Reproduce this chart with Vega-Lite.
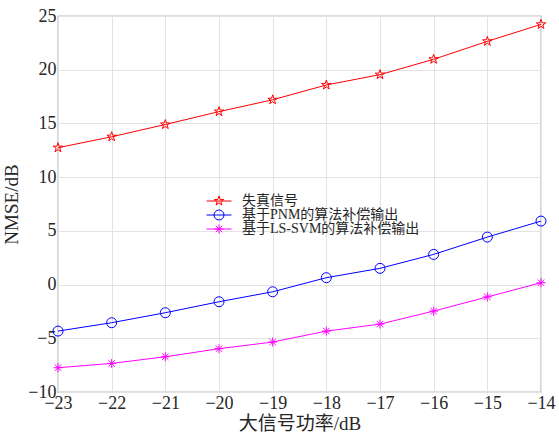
{
  "$schema": "https://vega.github.io/schema/vega-lite/v6.json",
  "width": 483,
  "height": 376,
  "autosize": {"type": "none"},
  "padding": {"left": 58, "top": 16, "right": 18, "bottom": 44},
  "background": "white",
  "config": {
    "view": {"stroke": "#7a7a7a", "strokeWidth": 1.2},
    "font": "Times New Roman, Liberation Serif, DejaVu Serif, serif",
    "axis": {
      "labelFont": "Times New Roman, Liberation Serif, DejaVu Serif, serif",
      "titleFont": "Times New Roman, Liberation Serif, Noto Sans CJK SC, serif",
      "labelFontSize": 18,
      "titleFontSize": 19,
      "labelColor": "#262626",
      "titleColor": "#262626",
      "titleFontWeight": "normal",
      "gridColor": "#e3e3e3",
      "gridWidth": 1,
      "domain": false,
      "tickSize": 0,
      "labelPadding": 2,
      "labelFlush": false
    },
    "legend": {
      "labelFont": "Times New Roman, Liberation Serif, Noto Sans CJK SC, serif",
      "labelFontSize": 14,
      "labelColor": "#262626",
      "labelLimit": 400
    }
  },
  "datasets": {
    "pts": [
      {"x": -23, "y": 12.74, "s": "失真信号"},
      {"x": -22, "y": 13.76, "s": "失真信号"},
      {"x": -21, "y": 14.9, "s": "失真信号"},
      {"x": -20, "y": 16.1, "s": "失真信号"},
      {"x": -19, "y": 17.2, "s": "失真信号"},
      {"x": -18, "y": 18.58, "s": "失真信号"},
      {"x": -17, "y": 19.54, "s": "失真信号"},
      {"x": -16, "y": 20.97, "s": "失真信号"},
      {"x": -15, "y": 22.64, "s": "失真信号"},
      {"x": -14, "y": 24.22, "s": "失真信号"},
      {"x": -23, "y": -4.33, "s": "基于PNM的算法补偿输出"},
      {"x": -22, "y": -3.55, "s": "基于PNM的算法补偿输出"},
      {"x": -21, "y": -2.62, "s": "基于PNM的算法补偿输出"},
      {"x": -20, "y": -1.6, "s": "基于PNM的算法补偿输出"},
      {"x": -19, "y": -0.67, "s": "基于PNM的算法补偿输出"},
      {"x": -18, "y": 0.64, "s": "基于PNM的算法补偿输出"},
      {"x": -17, "y": 1.51, "s": "基于PNM的算法补偿输出"},
      {"x": -16, "y": 2.81, "s": "基于PNM的算法补偿输出"},
      {"x": -15, "y": 4.42, "s": "基于PNM的算法补偿输出"},
      {"x": -14, "y": 5.91, "s": "基于PNM的算法补偿输出"},
      {"x": -23, "y": -7.74, "s": "基于LS-SVM的算法补偿输出"},
      {"x": -22, "y": -7.34, "s": "基于LS-SVM的算法补偿输出"},
      {"x": -21, "y": -6.72, "s": "基于LS-SVM的算法补偿输出"},
      {"x": -20, "y": -5.97, "s": "基于LS-SVM的算法补偿输出"},
      {"x": -19, "y": -5.35, "s": "基于LS-SVM的算法补偿输出"},
      {"x": -18, "y": -4.33, "s": "基于LS-SVM的算法补偿输出"},
      {"x": -17, "y": -3.68, "s": "基于LS-SVM的算法补偿输出"},
      {"x": -16, "y": -2.47, "s": "基于LS-SVM的算法补偿输出"},
      {"x": -15, "y": -1.15, "s": "基于LS-SVM的算法补偿输出"},
      {"x": -14, "y": 0.17, "s": "基于LS-SVM的算法补偿输出"}
    ]
  },
  "data": {"name": "pts"},
  "encoding": {
    "x": {
      "field": "x", "type": "quantitative",
      "scale": {"domain": [-23, -14], "nice": false, "zero": false},
      "axis": {"values": [-23, -22, -21, -20, -19, -18, -17, -16, -15, -14], "title": "大信号功率/dB", "titlePadding": 2}
    },
    "y": {
      "field": "y", "type": "quantitative",
      "scale": {"domain": [-10, 25], "nice": false, "zero": false},
      "axis": {"values": [-10, -5, 0, 5, 10, 15, 20, 25], "title": "NMSE/dB", "titlePadding": 6}
    }
  },
  "layer": [
    {
      "mark": {"type": "line", "strokeWidth": 1},
      "encoding": {
        "color": {
          "field": "s", "type": "nominal",
          "scale": {"domain": ["失真信号", "基于PNM的算法补偿输出", "基于LS-SVM的算法补偿输出"], "range": ["#ff0000", "#0000ff", "#ff00ff"]},
          "legend": {
            "title": null,
            "orient": "none",
            "legendX": 154,
            "legendY": 178,
            "symbolType": "M-2.5,0H2.5",
            "symbolSize": 100,
            "symbolStrokeWidth": 1,
            "symbolFillColor": "transparent",
            "rowPadding": -2,
            "labelOffset": 16,
            "symbolOffset": 0,
            "labelLimit": 400
          }
        }
      }
    },
    {
      "mark": {"type": "point", "filled": false, "strokeWidth": 1, "size": 100, "opacity": 1},
      "encoding": {
        "stroke": {
          "field": "s", "type": "nominal",
          "scale": {"domain": ["失真信号", "基于PNM的算法补偿输出", "基于LS-SVM的算法补偿输出", "无"], "range": ["#ff0000", "#0000ff", "#ff00ff", "#ffffff"]},
          "legend": {
            "title": null,
            "orient": "none",
            "legendX": 154,
            "legendY": 178,
            "values": ["失真信号", "基于PNM的算法补偿输出", "基于LS-SVM的算法补偿输出"],
            "symbolSize": 100,
            "symbolStrokeWidth": 1,
            "symbolFillColor": "transparent",
            "rowPadding": -2,
            "labelOffset": 16,
            "symbolOffset": 0,
            "labelOpacity": 0,
            "labelLimit": 400
          }
        },
        "shape": {
          "field": "s", "type": "nominal",
          "scale": {
            "domain": ["失真信号", "基于PNM的算法补偿输出", "基于LS-SVM的算法补偿输出", "无"],
            "range": [
              "M0,-1L0.225,-0.309L0.951,-0.309L0.363,0.118L0.588,0.809L0,0.382L-0.588,0.809L-0.363,0.118L-0.951,-0.309L-0.225,-0.309Z",
              "M1,0A1,1 0 1,1 -1,0A1,1 0 1,1 1,0Z",
              "M0,-0.9V0.9M-0.9,0H0.9M-0.64,-0.64L0.64,0.64M-0.64,0.64L0.64,-0.64",
              "circle"
            ]
          },
          "legend": {
            "title": null,
            "orient": "none",
            "legendX": 154,
            "legendY": 178,
            "values": ["失真信号", "基于PNM的算法补偿输出", "基于LS-SVM的算法补偿输出"],
            "symbolSize": 100,
            "symbolStrokeWidth": 1,
            "symbolFillColor": "transparent",
            "rowPadding": -2,
            "labelOffset": 16,
            "symbolOffset": 0,
            "labelOpacity": 0,
            "labelLimit": 400
          }
        }
      }
    }
  ]
}
